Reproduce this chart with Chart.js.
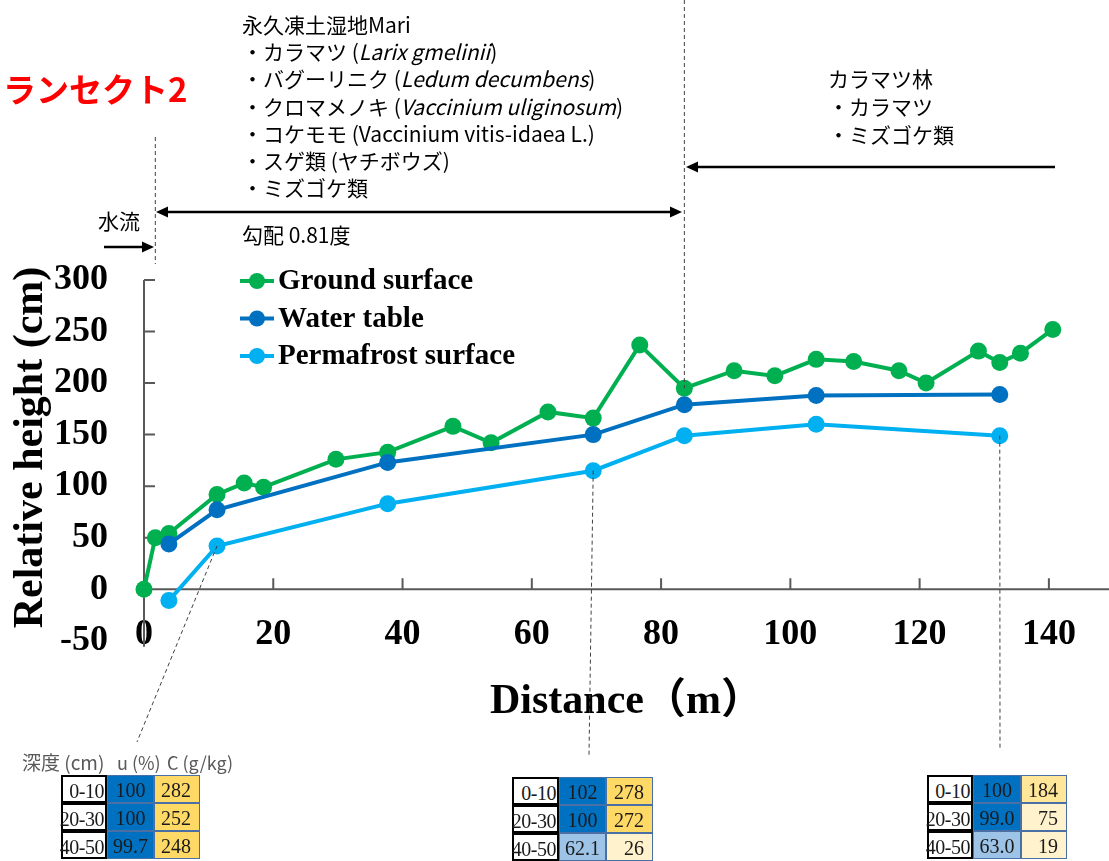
<!DOCTYPE html>
<html>
<head>
<meta charset="utf-8">
<script src="https://cdn.jsdelivr.net/npm/chart.js@4.4.1/dist/chart.umd.min.js"></script>
<style>
  body { margin: 0; background: #fff; }
  #wrap { position: relative; width: 1109px; height: 861px; overflow: hidden; }
  #chart { position: absolute; left: 0; top: 0; }
  .t { position: absolute; font-family: "Noto Sans CJK JP", sans-serif; color: #000; white-space: pre; }
  .note { font-size: 21px; line-height: 27.2px; }
  .hdr { position: absolute; font-family: "Noto Sans CJK JP", sans-serif; font-size: 18px; color: #595959; white-space: pre; line-height: 20px; }
  .cell { position: absolute; box-sizing: border-box; height: 28px; font-family: "Liberation Serif", serif; font-size: 20px; color: #1a1a1a; line-height: 28px; white-space: pre; }
</style>
</head>
<body>
<div id="wrap">
  <canvas id="chart" width="1109" height="861"></canvas>

  <div class="t" style="left:3px;top:70px;font-size:33px;line-height:36px;font-weight:bold;color:#ff0000;">ランセクト2</div>

  <div class="t note" style="left:242px;top:11px;">永久凍土湿地Mari
・カラマツ (<i>Larix gmelinii</i>)
・バグーリニク (<i>Ledum decumbens</i>)
・クロマメノキ (<i>Vaccinium uliginosum</i>)
・コケモモ (Vaccinium vitis-idaea L.)
・スゲ類 (ヤチボウズ)
・ミズゴケ類</div>
  <div class="t note" style="left:242px;top:221px;">勾配 0.81度</div>
  <div class="t note" style="left:98px;top:207px;">水流</div>
  <div class="t" style="left:828px;top:64px;font-size:21px;line-height:28px;">カラマツ林
・カラマツ
・ミズゴケ類</div>

  <div class="hdr" style="left:22px;top:752px;font-size:19px;">深度 (cm)</div>
  <div class="hdr" style="left:117px;top:752px;">u (%)</div>
  <div class="hdr" style="left:167px;top:752px;">C (g/kg)</div>
  <div id="tables"></div>
</div>

<script>
// ---------- data ----------
const groundX = [0, 1.75, 3.85, 11.3, 15.5, 18.5, 29.7, 37.7, 47.8, 53.7, 62.5, 69.5,
                 76.7, 83.6, 91.3, 97.6, 104, 109.8, 116.8, 121, 129.1, 132.4, 135.6, 140.6];
const groundY = [0, 50, 54, 92, 103, 99, 126, 133, 158, 142, 172, 166,
                 237, 195, 212, 207, 223, 221, 212, 200, 231, 220, 229, 252];
const waterX = [3.85, 11.3, 37.7, 69.5, 83.6, 104, 132.4];
const waterY = [44, 77, 123, 150, 179, 188, 189];
const frostX = [3.85, 11.3, 37.7, 69.5, 83.6, 104, 132.4];
const frostY = [-11, 42, 83, 115, 149, 160, 149];

const xTicks = [0, 20, 40, 60, 80, 100, 120, 140];
const yTicks = [-50, 0, 50, 100, 150, 200, 250, 300];

// soil tables under the chart
const depthLabels = ["0-10", "20-30", "40-50"];
const siteU = [["100", "100", "99.7"], ["102", "100", "62.1"], ["100", "99.0", "63.0"]];
const siteC = [["282", "252", "248"], ["278", "272", "26"], ["184", "75", "19"]];

function pts(xs, ys) { return xs.map((x, i) => ({x, y: ys[i]})); }

// ---------- tables ----------
const tablePos = [{left: 61, top: 775, w: [46, 47, 46]},
                  {left: 512, top: 777, w: [47, 47, 47]},
                  {left: 927, top: 775, w: [46, 48, 46]}];
function uColor(v) { return Number(v) >= 99 ? "#0070C0" : "#9DC3E6"; }
function cColor(v) { v = Number(v); return v >= 200 ? "#FFD966" : (v >= 100 ? "#FFE699" : "#FFF2CC"); }

const holder = document.getElementById("tables");
tablePos.forEach((p, k) => {
  depthLabels.forEach((d, r) => {
    const top = p.top + r * 28;
    const cells = [
      {text: d, bg: "#fff", border: "2px solid #000", align: "right", pad: "0 1px 0 0"},
      {text: siteU[k][r], bg: uColor(siteU[k][r]), border: "1px solid #4a6fa5", align: "center", pad: "0"},
      {text: siteC[k][r], bg: cColor(siteC[k][r]), border: "1px solid #4a6fa5", align: "right", pad: "0 8px 0 0"}
    ];
    let left = p.left;
    cells.forEach((c, j) => {
      const el = document.createElement("div");
      el.className = "cell";
      el.style.left = left + "px";
      el.style.top = top + "px";
      el.style.width = p.w[j] + "px";
      el.style.background = c.bg;
      el.style.border = c.border;
      el.style.textAlign = c.align;
      el.style.padding = c.pad;
      if (j === 0) { el.style.letterSpacing = "-0.5px"; el.style.direction = "rtl"; }
      el.textContent = c.text;
      holder.appendChild(el);
      left += p.w[j];
    });
  });
});

// ---------- plugins ----------
const axesPlugin = {
  id: "axesDraw",
  beforeDatasetsDraw(chart) {
    const {ctx, chartArea} = chart;
    const x = chart.scales.x, y = chart.scales.y;
    const y0 = y.getPixelForValue(0);
    ctx.save();
    ctx.strokeStyle = "#595959";
    ctx.lineWidth = 2;
    ctx.beginPath();
    ctx.moveTo(chartArea.left, y0); ctx.lineTo(chart.width, y0);
    ctx.moveTo(chartArea.left, y.getPixelForValue(300));
    ctx.lineTo(chartArea.left, y.getPixelForValue(-50) + 6);
    xTicks.forEach(v => {
      if (v === 0) return;
      const px = x.getPixelForValue(v);
      ctx.moveTo(px, y0); ctx.lineTo(px, y0 - 11);
    });
    yTicks.forEach(v => {
      if (v === -50) return;
      const py = y.getPixelForValue(v);
      ctx.moveTo(chartArea.left, py); ctx.lineTo(chartArea.left + 11, py);
    });
    ctx.stroke();
    ctx.restore();
  }
};

const legendPlugin = {
  id: "insideLegend",
  afterDatasetsDraw(chart) {
    const ctx = chart.ctx;
    ctx.save();
    ctx.font = 'bold 29px "Liberation Serif", serif';
    ctx.textBaseline = "middle";
    chart.data.datasets.forEach((ds, i) => {
      const yy = 281 + i * 37.5;
      ctx.strokeStyle = ds.borderColor;
      ctx.lineWidth = 4;
      ctx.beginPath(); ctx.moveTo(240, yy); ctx.lineTo(274, yy); ctx.stroke();
      ctx.fillStyle = ds.borderColor;
      ctx.beginPath(); ctx.arc(257, yy, 8, 0, Math.PI * 2); ctx.fill();
      ctx.fillStyle = "#000";
      ctx.fillText(ds.label, 278, yy + 1);
    });
    ctx.restore();
  }
};

function arrowHead(ctx, x, y, dir) {
  ctx.beginPath();
  ctx.moveTo(x, y);
  ctx.lineTo(x - dir * 12, y - 5.5);
  ctx.lineTo(x - dir * 12, y + 5.5);
  ctx.closePath();
  ctx.fill();
}

const notesPlugin = {
  id: "notes",
  afterDraw(chart) {
    const ctx = chart.ctx;
    const x = chart.scales.x, y = chart.scales.y;
    ctx.save();
    // dashed guide lines
    ctx.strokeStyle = "#404040";
    ctx.lineWidth = 1;
    ctx.setLineDash([4, 3]);
    const seg = (x1, y1, x2, y2) => { ctx.beginPath(); ctx.moveTo(x1, y1); ctx.lineTo(x2, y2); ctx.stroke(); };
    seg(x.getPixelForValue(groundX[1]), 137, x.getPixelForValue(groundX[1]), 264);
    seg(x.getPixelForValue(groundX[13]), 0, x.getPixelForValue(groundX[13]), y.getPixelForValue(groundY[13]));
    seg(x.getPixelForValue(frostX[1]), y.getPixelForValue(frostY[1]), 137, 742);
    seg(x.getPixelForValue(frostX[3]), y.getPixelForValue(frostY[3]), 589, 755);
    seg(x.getPixelForValue(frostX[6]), y.getPixelForValue(frostY[6]), 1000, 750);
    ctx.setLineDash([]);
    // arrows
    ctx.strokeStyle = "#000";
    ctx.fillStyle = "#000";
    ctx.lineWidth = 2.5;
    seg(160, 212, 677, 212);
    arrowHead(ctx, 156, 212, -1);
    arrowHead(ctx, 682, 212, 1);
    seg(697, 167, 1055, 167);
    arrowHead(ctx, 686, 167, -1);
    seg(104, 247, 145, 247);
    arrowHead(ctx, 154, 247, 1);
    ctx.restore();
  }
};

// ---------- chart ----------
const serif = '"Liberation Serif", "Times New Roman", "Noto Sans CJK JP", serif';

new Chart(document.getElementById("chart"), {
  type: "line",
  data: {
    datasets: [
      {label: "Ground surface", data: pts(groundX, groundY), borderColor: "#00B050", backgroundColor: "#00B050", order: 3},
      {label: "Water table", data: pts(waterX, waterY), borderColor: "#0070C0", backgroundColor: "#0070C0", order: 2},
      {label: "Permafrost surface", data: pts(frostX, frostY), borderColor: "#00B0F0", backgroundColor: "#00B0F0", order: 1}
    ]
  },
  options: {
    responsive: false,
    animation: false,
    devicePixelRatio: 1,
    layout: {autoPadding: false, padding: {top: 280, bottom: 120, left: 0, right: 0}},
    elements: {
      line: {borderWidth: 4, tension: 0},
      point: {radius: 8.5, borderWidth: 0, hoverRadius: 8.5}
    },
    datasets: {line: {clip: false, pointBackgroundColor: ctx => ctx.dataset.borderColor}},
    plugins: {legend: {display: false}, tooltip: {enabled: false}},
    scales: {
      x: {
        type: "linear",
        min: 0, max: 149.3,
        grid: {display: false, drawTicks: false},
        border: {display: false},
        afterBuildTicks: s => { s.ticks = xTicks.map(v => ({value: v})); },
        afterFit: s => { s.height = 126; },
        ticks: {padding: -2, color: "#000", font: {family: serif, size: 36, weight: "bold"}},
        title: {display: true, text: "Distance（m）", color: "#000", padding: {top: 0, bottom: 14},
                font: {family: serif, size: 42, weight: "bold"}}
      },
      y: {
        min: -25, max: 300,
        grid: {display: false, drawTicks: false},
        border: {display: false},
        afterBuildTicks: s => { s.ticks = yTicks.map(v => ({value: v})); },
        afterFit: s => { s.width = 144; },
        ticks: {padding: 36, color: "#000", font: {family: serif, size: 36, weight: "bold"}},
        title: {display: true, text: "Relative height (cm)", color: "#000", padding: {top: 6, bottom: 0},
                font: {family: serif, size: 42, weight: "bold"}}
      }
    }
  },
  plugins: [axesPlugin, legendPlugin, notesPlugin]
});
</script>
</body>
</html>
